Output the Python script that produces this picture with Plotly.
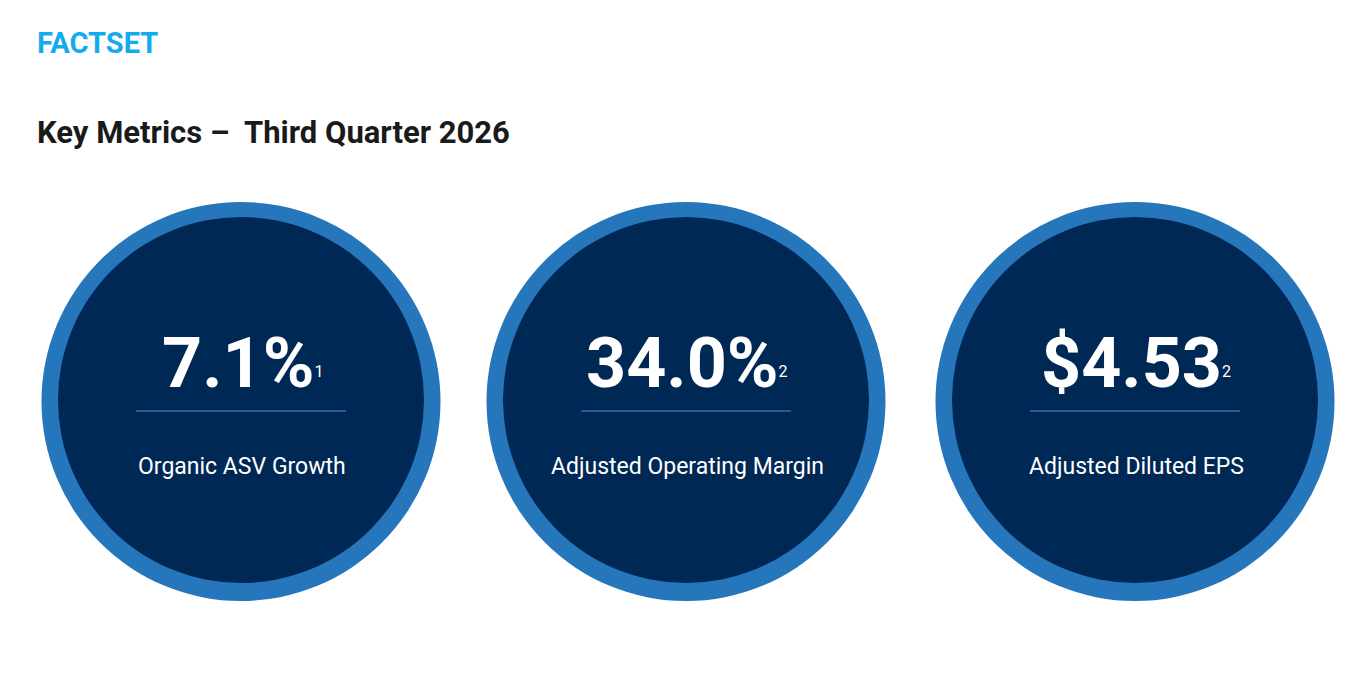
import plotly.graph_objects as go

# --- data ---
metric_values = ["7.1%", "34.0%", "$4.53"]
footnotes = ["1", "2", "2"]
metric_labels = ["Organic ASV Growth", "Adjusted Operating Margin", "Adjusted Diluted EPS"]

title_text = "Key Metrics \u2013\u00a0 Third Quarter 2026"
logo_text = "FACTSET"

# --- styling / layout ---
W, H = 1368, 688
centers_x = [241, 686, 1135]
center_y = 401.5
outer_r = 199.5
inner_r = 183
ring_color = "#2676BC"
inner_color = "#002855"
divider_color = "#4A8FD4"
font_family = "Roboto, 'Noto Sans', sans-serif"

fig = go.Figure()

shapes = []
annotations = []
for cx, value, note, label in zip(centers_x, metric_values, footnotes, metric_labels):
    # outer ring
    shapes.append(dict(
        type="circle", xref="x", yref="y",
        x0=cx - outer_r, x1=cx + outer_r,
        y0=center_y - outer_r, y1=center_y + outer_r,
        fillcolor=ring_color, line=dict(width=0), layer="below",
    ))
    # inner disc
    shapes.append(dict(
        type="circle", xref="x", yref="y",
        x0=cx - inner_r, x1=cx + inner_r,
        y0=center_y - 1.5 - inner_r, y1=center_y - 1.5 + inner_r,
        fillcolor=inner_color, line=dict(width=0), layer="below",
    ))
    # divider
    shapes.append(dict(
        type="line", xref="x", yref="y",
        x0=cx - 105, x1=cx + 105, y0=411, y1=411,
        line=dict(color=divider_color, width=1),
    ))
    # big number with footnote marker
    annotations.append(dict(
        x=cx + 1, y=363, xref="x", yref="y",
        text=f"<b>{value}</b><span style='font-size:23px'><sup>{note}</sup></span>",
        showarrow=False, xanchor="center", yanchor="middle",
        font=dict(family=font_family, size=70, color="white"),
    ))
    # label
    annotations.append(dict(
        x=cx + 1, y=466.5, xref="x", yref="y",
        text=label, showarrow=False, xanchor="center", yanchor="middle",
        font=dict(family=font_family, size=23, color="white"),
    ))

# logo
annotations.append(dict(
    x=35, y=43, xref="x", yref="y", text=f"<b>{logo_text}</b>",
    showarrow=False, xanchor="left", yanchor="middle",
    font=dict(family=font_family, size=29, color="#12ABEC"),
))
# title
annotations.append(dict(
    x=35, y=132, xref="x", yref="y", text=f"<b>{title_text}</b>",
    showarrow=False, xanchor="left", yanchor="middle",
    font=dict(family=font_family, size=31, color="#1A1A1A"),
))

fig.update_layout(
    width=W, height=H,
    margin=dict(l=0, r=0, t=0, b=0),
    paper_bgcolor="white", plot_bgcolor="white",
    xaxis=dict(range=[0, W], visible=False, fixedrange=True),
    yaxis=dict(range=[H, 0], visible=False, fixedrange=True),
    shapes=shapes, annotations=annotations,
    showlegend=False,
)

fig.write_html(
    "out.html",
    config={"displayModeBar": False},
    post_script="document.body.style.margin='0';",
)
